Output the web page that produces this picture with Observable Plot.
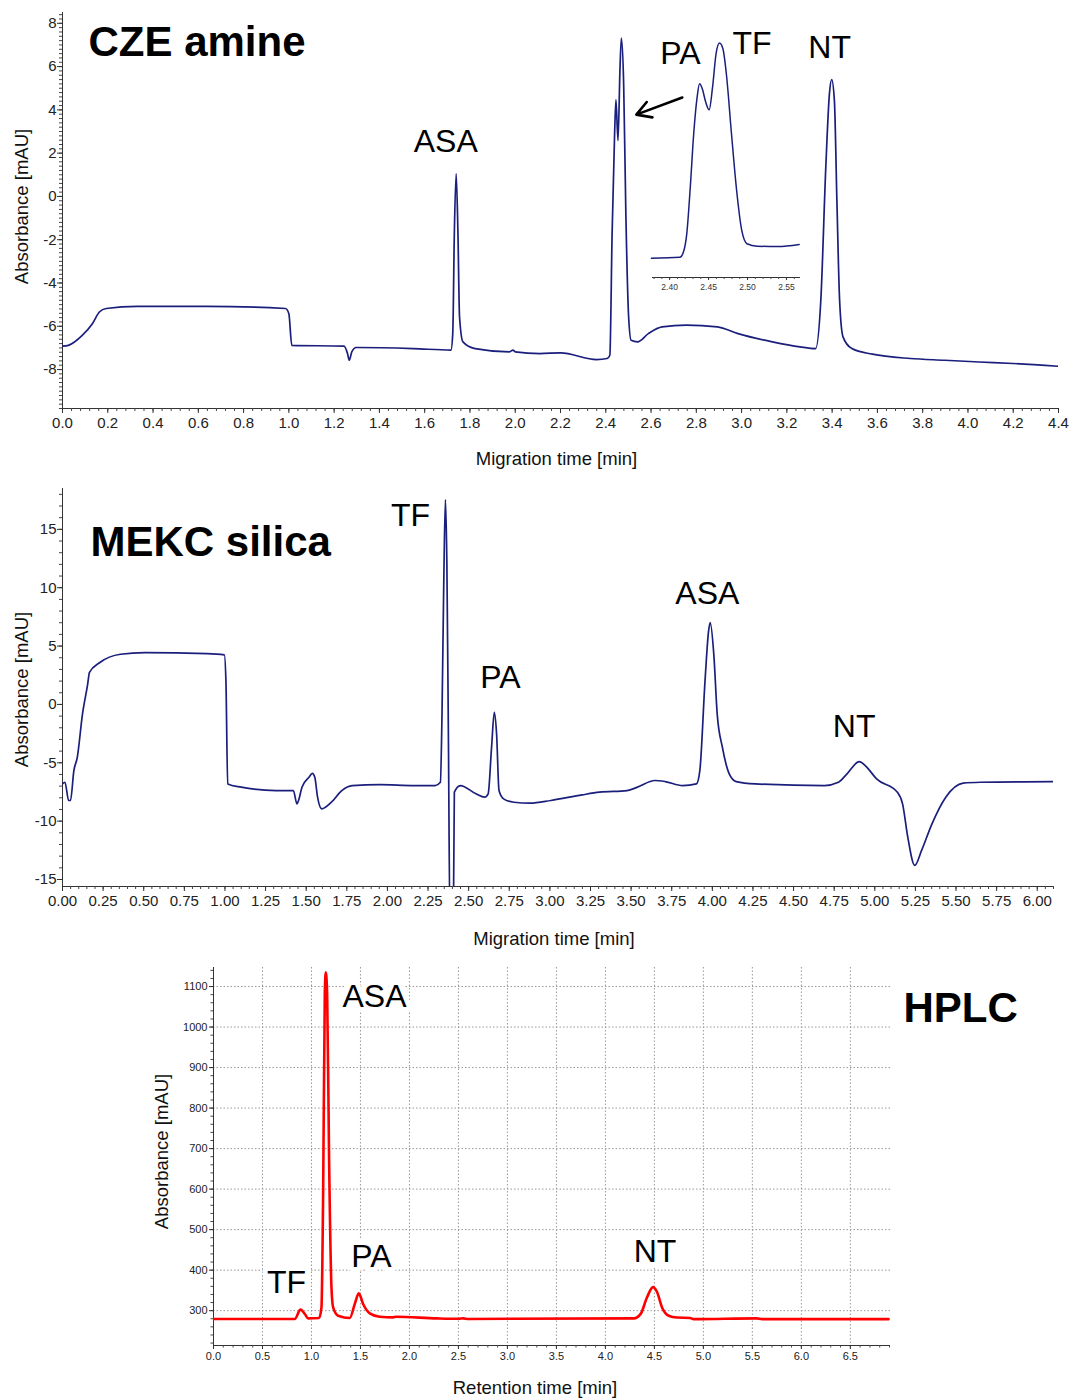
<!DOCTYPE html>
<html>
<head>
<meta charset="utf-8">
<script src="https://cdn.jsdelivr.net/npm/d3@7"></script>
<script src="https://cdn.jsdelivr.net/npm/@observablehq/plot@0.6"></script>
<style>
  html, body { margin: 0; padding: 0; background: #fff; }
  #page { position: relative; width: 1070px; height: 1398px; overflow: hidden; }
  #page > div { position: absolute; }
  svg { overflow: visible; }
</style>
</head>
<body>
<div id="page"></div>
<script>
const FONT = '"Liberation Sans", Arial, Helvetica, sans-serif';
const NAVY = "#1b1f7c";
const RED = "#ff0000";

// ---------------- CZE amine ----------------
const czeTime = [0,0.026,0.087,0.132,0.163,0.193,0.33,0.635,0.985,1.0,1.013,1.244,1.259,1.267,1.278,1.297,1.549,1.716,1.724,1.731,1.739,1.747,1.754,1.769,1.823,1.975,1.99,2.0,2.109,2.2,2.36,2.406,2.418,2.428,2.439,2.445,2.454,2.463,2.469,2.479,2.489,2.501,2.512,2.54,2.588,2.649,2.756,2.893,2.984,3.136,3.258,3.327,3.35,3.372,3.388,3.398,3.41,3.421,3.433,3.448,3.487,3.578,3.745,3.897,4.05,4.2,4.4];
const czeAbs = [-6.92,-6.88,-6.42,-5.88,-5.34,-5.18,-5.08,-5.08,-5.18,-5.42,-6.88,-6.92,-7.26,-7.57,-7.18,-6.98,-7.03,-7.1,-6.34,-1.72,1.05,-1.72,-5.57,-6.72,-7.03,-7.18,-7.1,-7.18,-7.26,-7.23,-7.54,-7.49,-7.34,-1.72,2.89,4.46,2.58,5.97,7.32,5.2,-0.95,-5.57,-6.65,-6.72,-6.34,-6.03,-5.95,-6.03,-6.34,-6.72,-6.95,-7.03,-4.8,1.35,4.74,5.4,4.43,-0.18,-4.8,-6.49,-7.03,-7.29,-7.49,-7.57,-7.65,-7.72,-7.85];
const czeXTicks = [0,0.2,0.4,0.6,0.8,1.0,1.2,1.4,1.6,1.8,2.0,2.2,2.4,2.6,2.8,3.0,3.2,3.4,3.6,3.8,4.0,4.2,4.4];
const czeYTicks = [-8,-6,-4,-2,0,2,4,6,8];
const czePeakNames = ["ASA","PA","TF","NT"];
const czePeakX = [1.693,2.73,3.046,3.389];
const czePeakY = [2.04,6.14,6.6,6.4];
// arrow pointing at the PA/TF pair
const czeArrowFrom = [2.738, 4.57];
const czeArrowTo = [2.535, 3.78];

// inset (zoom of PA / TF pair)
const insetTime = [2.3766,2.4132,2.4176,2.422,2.4265,2.4309,2.4353,2.4384,2.4419,2.4463,2.4507,2.4551,2.4596,2.464,2.4684,2.4728,2.4794,2.486,2.4926,2.4993,2.5125,2.539,2.5663];
const insetAbs = [-7.43,-7.36,-7.02,-5.76,-2.57,1.09,3.6,4.51,4.17,3.26,2.73,4.28,6.57,7.3,6.91,5.2,1.09,-2.79,-5.53,-6.44,-6.61,-6.63,-6.49];
const insetTicks = [2.40,2.45,2.50,2.55];

// ---------------- MEKC silica ----------------
const mekcTime = [0,0.015,0.038,0.049,0.07,0.091,0.123,0.155,0.166,0.23,0.357,0.506,0.889,0.996,1.006,1.017,1.1,1.315,1.421,1.443,1.453,1.474,1.517,1.538,1.553,1.57,1.596,1.655,1.719,1.783,1.953,2.166,2.294,2.326,2.336,2.347,2.357,2.366,2.375,2.386,2.405,2.412,2.449,2.545,2.598,2.62,2.641,2.658,2.672,2.687,2.715,2.779,2.878,3.006,3.198,3.305,3.475,3.539,3.646,3.71,3.817,3.902,3.923,3.955,3.977,3.987,4.009,4.03,4.062,4.104,4.147,4.264,4.691,4.776,4.829,4.904,4.947,5.011,5.139,5.171,5.203,5.246,5.288,5.352,5.437,5.544,5.65,6.1];
const mekcAbs = [-6.81,-6.67,-8.23,-8.23,-5.67,-4.53,-0.83,1.74,2.74,3.59,4.3,4.44,4.36,4.25,2.02,-6.81,-7.09,-7.38,-7.38,-8.52,-8.23,-7.09,-6.24,-5.9,-6.24,-7.95,-8.95,-8.38,-7.38,-6.95,-6.87,-6.95,-6.95,-6.67,-0.83,10.57,17.55,12,-2,-20,-20,-7.52,-6.95,-7.66,-7.95,-7.66,-3.68,-0.68,-2.54,-7.38,-8.09,-8.38,-8.46,-8.23,-7.75,-7.52,-7.38,-7.09,-6.52,-6.61,-6.95,-6.81,-5.67,2.02,6.3,7.01,4.3,-0.83,-3.68,-5.95,-6.61,-6.81,-6.95,-6.67,-5.95,-4.9,-5.33,-6.38,-7.52,-8.52,-11.37,-13.79,-12.51,-10.23,-7.95,-6.75,-6.67,-6.61];
const mekcXTicks = [0,0.25,0.5,0.75,1,1.25,1.5,1.75,2,2.25,2.5,2.75,3,3.25,3.5,3.75,4,4.25,4.5,4.75,5,5.25,5.5,5.75,6];
const mekcYTicks = [-15,-10,-5,0,5,10,15];
const mekcPeakNames = ["TF","PA","ASA","NT"];
const mekcPeakX = [2.142,2.695,3.969,4.873];
const mekcPeakY = [15.25,1.37,8.63,-2.8];

// ---------------- HPLC ----------------
const hplcTime = [0,0.83,0.888,0.932,0.966,1.078,1.102,1.119,1.136,1.146,1.16,1.18,1.204,1.221,1.272,1.391,1.442,1.483,1.527,1.595,1.697,1.834,1.86,2.28,2.5,2.55,2.6,4.29,4.36,4.425,4.486,4.527,4.578,4.646,4.73,4.866,4.9,5.546,5.6,6.89];
const hplcAbs = [279.4,279.4,302.5,291.8,281,282,308,588,1082,1135,1082,670,357.6,308,287.6,282,316.5,342.8,316.5,293.4,285,283.5,285,281,280,281,279.5,281,292,333,358,346,308,287.5,283,282,279,281,279,279];
const hplcXTicks = [0,0.5,1,1.5,2,2.5,3,3.5,4,4.5,5,5.5,6,6.5];
const hplcYTicks = [300,400,500,600,700,800,900,1000,1100];
const hplcPeakNames = ["TF","ASA","PA","NT"];
const hplcPeakX = [0.745,1.643,1.612,4.507];
const hplcPeakY = [342.6,1049,408,419];

// ---------------- helpers ----------------
const series = (ts, vs) => ts.map((t, i) => ({t, v: vs[i]}));
const peaks = (names, xs, ys) => names.map((n, i) => ({n, x: xs[i], y: ys[i]}));
const steps = (a, b, s) => d3.range(Math.round((b - a) / s) + 1).map(i => +(a + i * s).toFixed(4));
const blank = () => "";

function place(node, left, top) {
  const d = document.createElement("div");
  d.style.left = left + "px";
  d.style.top = top + "px";
  d.appendChild(node);
  document.getElementById("page").appendChild(d);
}

function axes({xDomain, yDomain, xTicks, xMinor, yTicks, yMinor, xFmt, yFmt, tickFont, majorLen = 5, minorLen = 3, xPad = 4, yPad = 1, color = "#222"}) {
  return [
    Plot.ruleY([yDomain[0]], {stroke: "#333", strokeWidth: 1}),
    Plot.ruleX([xDomain[0]], {stroke: "#333", strokeWidth: 1}),
    Plot.axisX({ticks: xMinor, tickSize: minorLen, tickFormat: blank, label: null, stroke: "#444"}),
    Plot.axisY({ticks: yMinor, tickSize: minorLen, tickFormat: blank, label: null, stroke: "#444"}),
    Plot.axisX({ticks: xTicks, tickSize: majorLen, tickPadding: xPad, tickFormat: xFmt, label: null, fontSize: tickFont, fill: color, stroke: "#333"}),
    Plot.axisY({ticks: yTicks, tickSize: majorLen, tickPadding: yPad, tickFormat: yFmt, label: null, fontSize: tickFont, fill: color, stroke: "#333"})
  ];
}

const baseStyle = {fontFamily: FONT, background: "transparent", color: "#111", overflow: "visible"};

// ---------------- Panel 1: CZE amine ----------------
{
  const xDomain = [0, 4.4], yDomain = [-9.8, 8.5];
  const p = Plot.plot({
    width: 1070, height: 470,
    marginLeft: 62, marginRight: 12, marginTop: 12, marginBottom: 62,
    x: {domain: xDomain}, y: {domain: yDomain},
    style: baseStyle,
    marks: [
      ...axes({xDomain, yDomain, xTicks: czeXTicks, xMinor: steps(0, 4.4, 0.04), yTicks: czeYTicks, yMinor: steps(-9.8, 8.4, 0.2),
               xFmt: d => d.toFixed(1), yFmt: d => String(d), tickFont: 15}),
      Plot.line(series(czeTime, czeAbs), {x: "t", y: "v", stroke: NAVY, strokeWidth: 1.7, curve: "monotone-x", clip: true}),
      Plot.text(peaks(czePeakNames, czePeakX, czePeakY), {x: "x", y: "y", text: "n", fontSize: 32, lineAnchor: "bottom", fill: "#000"}),
      Plot.arrow([{a: czeArrowFrom, b: czeArrowTo}], {x1: d => d.a[0], y1: d => d.a[1], x2: d => d.b[0], y2: d => d.b[1], stroke: "#000", strokeWidth: 2.6, headLength: 22, bend: 0}),
      Plot.text(["CZE amine"], {text: d => d, frameAnchor: "top-left", textAnchor: "start", lineAnchor: "top", dx: 26, dy: 14, fontSize: 42, fontWeight: "bold", fill: "#000"}),
      Plot.text(["Migration time [min]"], {text: d => d, frameAnchor: "bottom", textAnchor: "middle", lineAnchor: "bottom", dx: -4, dy: 56, fontSize: 18.5, fill: "#111"}),
      Plot.text(["Absorbance [mAU]"], {text: d => d, frameAnchor: "left", textAnchor: "middle", rotate: -90, dx: -40, dy: -4, fontSize: 18.5, fill: "#111"})
    ]
  });
  place(p, 0, 0);

  // inset
  const ix = [2.378, 2.568], iy = [-8.75, 7.82];
  const inset = Plot.plot({
    width: 170, height: 275,
    marginLeft: 12, marginRight: 10, marginTop: 10, marginBottom: 23,
    x: {domain: ix}, y: {domain: iy, axis: null},
    style: baseStyle,
    marks: [
      Plot.ruleY([iy[0]], {stroke: "#333", strokeWidth: 1}),
      Plot.axisX({ticks: steps(2.38, 2.56, 0.01), tickSize: 2, tickFormat: blank, label: null, stroke: "#444"}),
      Plot.axisX({ticks: insetTicks, tickSize: 3, tickPadding: 3, tickFormat: d => d.toFixed(2), label: null, fontSize: 8.5, fill: "#333", stroke: "#333"}),
      Plot.line(series(insetTime, insetAbs), {x: "t", y: "v", stroke: NAVY, strokeWidth: 1.5, curve: "monotone-x"})
    ]
  });
  place(inset, 640, 25);
}

// ---------------- Panel 2: MEKC silica ----------------
{
  const xDomain = [0, 6.1], yDomain = [-15.6, 18.5];
  const p = Plot.plot({
    width: 1070, height: 480,
    marginLeft: 62, marginRight: 17, marginTop: 18, marginBottom: 64,
    x: {domain: xDomain}, y: {domain: yDomain},
    style: baseStyle,
    marks: [
      ...axes({xDomain, yDomain, xTicks: mekcXTicks, xMinor: steps(0, 6.1, 0.05), yTicks: mekcYTicks, yMinor: steps(-15, 18, 1),
               xFmt: d => d.toFixed(2), yFmt: d => String(d), tickFont: 15}),
      Plot.line(series(mekcTime, mekcAbs), {x: "t", y: "v", stroke: NAVY, strokeWidth: 1.7, curve: "monotone-x", clip: true}),
      Plot.text(peaks(mekcPeakNames, mekcPeakX, mekcPeakY), {x: "x", y: "y", text: "n", fontSize: 32, lineAnchor: "bottom", fill: "#000"}),
      Plot.text(["MEKC silica"], {text: d => d, frameAnchor: "top-left", textAnchor: "start", lineAnchor: "top", dx: 28, dy: 38, fontSize: 42, fontWeight: "bold", fill: "#000"}),
      Plot.text(["Migration time [min]"], {text: d => d, frameAnchor: "bottom", textAnchor: "middle", lineAnchor: "bottom", dx: -4, dy: 58, fontSize: 18.5, fill: "#111"}),
      Plot.text(["Absorbance [mAU]"], {text: d => d, frameAnchor: "left", textAnchor: "middle", rotate: -90, dx: -40, dy: 2, fontSize: 18.5, fill: "#111"})
    ]
  });
  place(p, 0, 470);
}

// ---------------- Panel 3: HPLC ----------------
{
  const xDomain = [0, 6.91], yDomain = [214, 1147];
  const p = Plot.plot({
    width: 1070, height: 448,
    marginLeft: 213, marginRight: 180, marginTop: 17, marginBottom: 53,
    x: {domain: xDomain}, y: {domain: yDomain},
    style: baseStyle,
    marks: [
      Plot.gridX(hplcXTicks.filter(d => d > 0), {stroke: "#999", strokeOpacity: 1, strokeWidth: 1, strokeDasharray: "1.5,2"}),
      Plot.gridY(hplcYTicks, {stroke: "#999", strokeOpacity: 1, strokeWidth: 1, strokeDasharray: "1.5,2"}),
      ...axes({xDomain, yDomain, xTicks: hplcXTicks, xMinor: steps(0, 6.9, 0.1), yTicks: hplcYTicks, yMinor: steps(220, 1140, 20),
               xFmt: d => d.toFixed(1), yFmt: d => String(d), tickFont: 11, majorLen: 4, minorLen: 2.5, xPad: 3, yPad: 2}),
      Plot.line(series(hplcTime, hplcAbs), {x: "t", y: "v", stroke: RED, strokeWidth: 2.6, curve: "monotone-x", clip: true}),
      Plot.text(peaks(hplcPeakNames, hplcPeakX, hplcPeakY), {x: "x", y: "y", text: "n", fontSize: 32, lineAnchor: "bottom", fill: "#000", stroke: "#fff", strokeWidth: 10}),
      Plot.text(["HPLC"], {text: d => d, frameAnchor: "top-right", textAnchor: "start", lineAnchor: "top", dx: 13, dy: 25, fontSize: 42, fontWeight: "bold", fill: "#000"}),
      Plot.text(["Retention time [min]"], {text: d => d, frameAnchor: "bottom", textAnchor: "middle", lineAnchor: "bottom", dx: -17, dy: 48, fontSize: 18.5, fill: "#111"}),
      Plot.text(["Absorbance [mAU]"], {text: d => d, frameAnchor: "left", textAnchor: "middle", rotate: -90, dx: -51.5, dy: -5, fontSize: 18.5, fill: "#111"})
    ]
  });
  place(p, 0, 950);
}
</script>
</body>
</html>
